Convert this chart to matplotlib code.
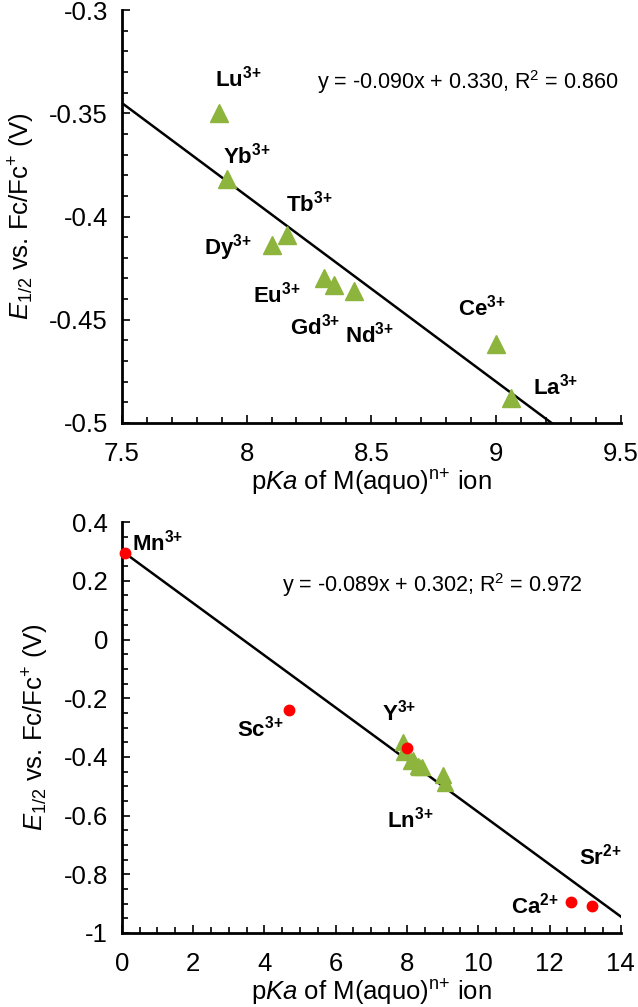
import matplotlib
matplotlib.use("Agg")
import matplotlib.pyplot as plt
import numpy as np
from matplotlib.ticker import MultipleLocator, FuncFormatter

plt.rcParams['font.family'] = ['Liberation Sans', 'DejaVu Sans']
plt.rcParams['mathtext.fontset'] = 'custom'
plt.rcParams['mathtext.rm'] = 'Liberation Sans'
plt.rcParams['mathtext.it'] = 'Liberation Sans:italic'
plt.rcParams['mathtext.bf'] = 'Liberation Sans:bold'

# ---- Data: lanthanides (top panel, and repeated in bottom) ----
ln_names = ['Lu', 'Yb', 'Tb', 'Dy', 'Eu', 'Gd', 'Nd', 'Ce', 'La']
ln_pka = [7.89, 7.92, 8.16, 8.10, 8.31, 8.35, 8.43, 9.00, 9.06]
ln_e12 = [-0.350, -0.382, -0.409, -0.414, -0.430, -0.433, -0.436, -0.462, -0.488]
ln_label_x = [7.873, 7.905, 8.157, 7.829, 8.025, 8.173, 8.394, 8.847, 9.147]
ln_label_y = [-0.333, -0.3707, -0.3935, -0.4148, -0.438, -0.4535, -0.4574, -0.4443, -0.4826]

top_slope, top_icpt = -0.090, 0.330
top_eq = r'y = -0.090x + 0.330, R$^{2}$ = 0.860'

# ---- Data: other metal ions (bottom panel) ----
m_names = ['Mn', 'Sc', 'Y', 'Ca', 'Sr']
m_charge = ['3', '3', '3', '2', '2']
m_pka = [0.1, 4.69, 8.0, 12.6, 13.19]
m_e12 = [0.294, -0.240, -0.370, -0.893, -0.909]
m_label_x = [0.28, 3.23, 7.29, 10.91, 12.82]
m_label_y = [0.332, -0.302, -0.25, -0.905, -0.741]
ln_group_label = ('Ln', 7.44, -0.615)

bot_slope, bot_icpt = -0.089, 0.302
bot_eq = r'y = -0.089x + 0.302; R$^{2}$ = 0.972'

green = '#8db43c'
red = '#ff0000'
TICK_FS = 18.5
LABEL_FS = 18.5
ANN_FS = 16
EQ_FS = 15.5

fig = plt.figure(figsize=(6.38, 10.07), dpi=100)
ax1 = fig.add_axes([0.191, 0.580, 0.782, 0.410])
ax2 = fig.add_axes([0.191, 0.0735, 0.782, 0.408])

xlabel = r'p$\mathit{Ka}$ of M(aquo)$^{\mathrm{n}\mathrm{+}}$ ion'
ylabel = r'$\mathit{E}_{\mathrm{1/2}}$ vs. Fc/Fc$^{+}$ (V)'


def ion(name, charge):
    return r'$\mathbf{%s}^{\mathbf{%s}\mathbf{+}}$' % (name, charge)


def style(ax, xmaj, xmin, ymaj, ymin):
    for s in ['top', 'right']:
        ax.spines[s].set_visible(False)
    for s in ['left', 'bottom']:
        ax.spines[s].set_linewidth(2.0)
    ax.xaxis.set_major_locator(MultipleLocator(xmaj))
    ax.xaxis.set_minor_locator(MultipleLocator(xmin))
    ax.yaxis.set_major_locator(MultipleLocator(ymaj))
    ax.yaxis.set_minor_locator(MultipleLocator(ymin))
    ax.tick_params(which='both', direction='in', width=1.2)
    ax.tick_params(which='major', length=6)
    ax.tick_params(which='minor', length=4)
    ax.tick_params(axis='x', which='major', labelsize=TICK_FS, pad=14)
    ax.tick_params(axis='y', which='major', labelsize=TICK_FS, pad=10)
    ax.set_xlabel(xlabel, fontsize=LABEL_FS, labelpad=1)
    ax.set_ylabel(ylabel, fontsize=LABEL_FS, labelpad=9)
    fmt = FuncFormatter(lambda v, p: '%g' % round(v, 3))
    ax.xaxis.set_major_formatter(fmt)
    ax.yaxis.set_major_formatter(fmt)


# ---- Top panel ----
ax1.set_xlim(7.5, 9.5)
ax1.set_ylim(-0.5, -0.3)
xx = np.array([7.5, 9.5])
ax1.plot(xx, top_slope * xx + top_icpt, color='black', lw=1.8, zorder=2)
ax1.plot(ln_pka, ln_e12, linestyle='none', marker='^', markersize=13,
         color=green, zorder=3)
for n, lx, ly in zip(ln_names, ln_label_x, ln_label_y):
    ax1.text(lx, ly, ion(n, '3'), fontsize=ANN_FS, ha='left', va='center')
ax1.text(8.282, -0.3349, top_eq, fontsize=EQ_FS, ha='left', va='center')
style(ax1, 0.5, 0.1, 0.05, 0.01)

# ---- Bottom panel ----
ax2.set_xlim(0, 14)
ax2.set_ylim(-1, 0.4)
xx2 = np.array([0, 14])
ax2.plot(xx2, bot_slope * xx2 + bot_icpt, color='black', lw=1.8, zorder=2)
ax2.plot(ln_pka, ln_e12, linestyle='none', marker='^', markersize=12,
         color=green, zorder=3)
ax2.plot(m_pka, m_e12, linestyle='none', marker='o', markersize=7.5,
         color=red, zorder=4, clip_on=False)
for n, c, lx, ly in zip(m_names, m_charge, m_label_x, m_label_y):
    ax2.text(lx, ly, ion(n, c), fontsize=ANN_FS, ha='left', va='center')
ax2.text(ln_group_label[1], ln_group_label[2], ion(ln_group_label[0], '3'),
         fontsize=ANN_FS, ha='left', va='center')
ax2.text(4.49, 0.185, bot_eq, fontsize=EQ_FS, ha='left', va='center')
style(ax2, 2, 0.5, 0.2, 0.05)

fig.savefig('out.png', dpi=100)
